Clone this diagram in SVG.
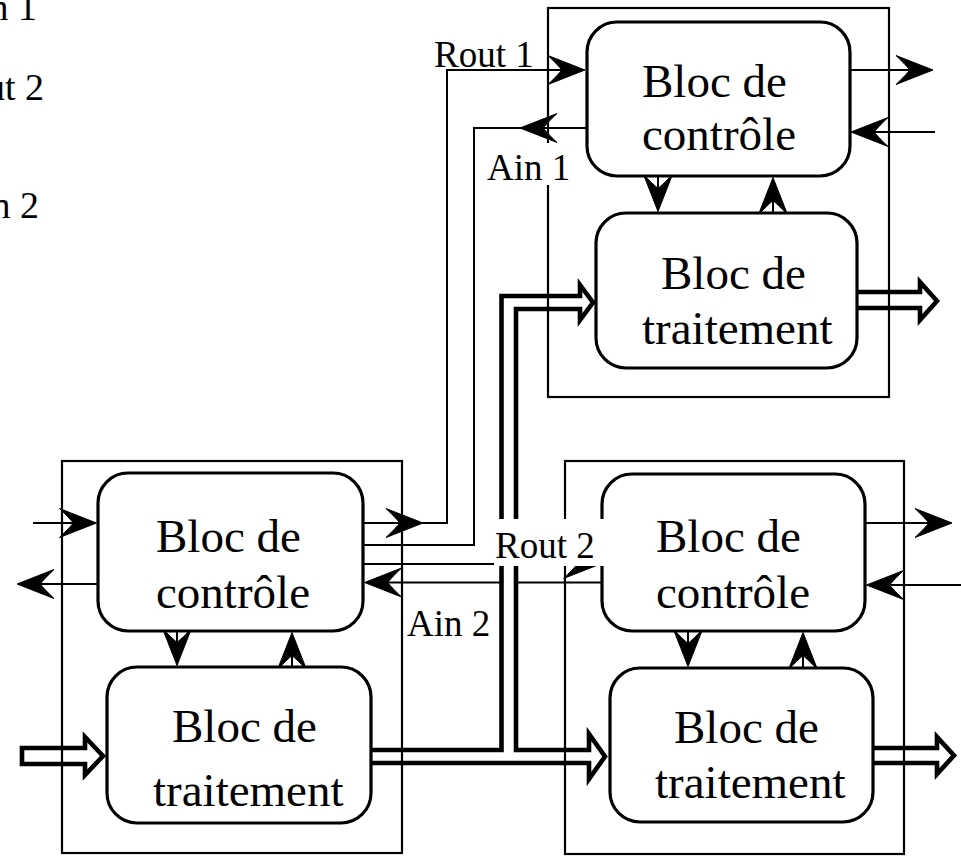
<svg xmlns="http://www.w3.org/2000/svg" xmlns:xlink="http://www.w3.org/1999/xlink" width="961" height="856" viewBox="0 0 961 856">
<style>
.box{fill:none;stroke:#000;stroke-width:2.2}
.blk{fill:#fff;stroke:#000;stroke-width:3.2}
.ln{fill:none;stroke:#000;stroke-width:2}
.ah{fill:#000;stroke:#000;stroke-width:1;stroke-linejoin:miter}
.bus{fill:#fff;stroke:#000;stroke-width:4.6;stroke-linejoin:miter;stroke-miterlimit:10}
.t{font-family:"Liberation Serif","Times New Roman",serif;font-size:47px;fill:#000}
.lbl{font-family:"Liberation Serif","Times New Roman",serif;font-size:37px;fill:#000}
.cut{font-family:"Liberation Serif","Times New Roman",serif;font-size:38px;fill:#000;text-anchor:end}
.bg{fill:#fff;stroke:none}
</style>
<defs>
<path id="ah" d="M0,0 L-37,-14.5 Q-28,-6 -23,0 Q-28,6 -37,14.5 Z"/>
</defs>

<g id="connectors">
  <line class="ln" x1="850" y1="70" x2="930" y2="70"/>
  <use href="#ah" class="ah" transform="translate(933,70)"/>
  <line class="ln" x1="935" y1="132" x2="855" y2="132"/>
  <use href="#ah" class="ah" transform="translate(851,132) rotate(180)"/>
  <line class="ln" x1="658" y1="176" x2="658" y2="208"/>
  <use href="#ah" class="ah" transform="translate(658,211.5) rotate(90)"/>
  <line class="ln" x1="773" y1="213" x2="773" y2="181"/>
  <use href="#ah" class="ah" transform="translate(773,177.5) rotate(-90)"/>

  <line class="ln" x1="33" y1="523" x2="93" y2="523"/>
  <use href="#ah" class="ah" transform="translate(96.5,523)"/>
  <line class="ln" x1="98" y1="584" x2="21" y2="584"/>
  <use href="#ah" class="ah" transform="translate(17,584) rotate(180)"/>
  <line class="ln" x1="177" y1="631" x2="177" y2="662"/>
  <use href="#ah" class="ah" transform="translate(177,665.5) rotate(90)"/>
  <line class="ln" x1="292" y1="667" x2="292" y2="636"/>
  <use href="#ah" class="ah" transform="translate(292,632.5) rotate(-90)"/>

  <line class="ln" x1="865" y1="523" x2="949" y2="523"/>
  <use href="#ah" class="ah" transform="translate(952,523)"/>
  <line class="ln" x1="961" y1="585" x2="870" y2="585"/>
  <use href="#ah" class="ah" transform="translate(866.5,585) rotate(180)"/>
  <line class="ln" x1="688" y1="631" x2="688" y2="663"/>
  <use href="#ah" class="ah" transform="translate(688,666.5) rotate(90)"/>
  <line class="ln" x1="803" y1="668" x2="803" y2="636"/>
  <use href="#ah" class="ah" transform="translate(803,632.5) rotate(-90)"/>

  <polyline class="ln" points="363,523 447,523 447,70 582,70"/>
  <use href="#ah" class="ah" transform="translate(423,523)"/>
  <use href="#ah" class="ah" transform="translate(585,70)"/>
  <polyline class="ln" points="587,128 474,128 474,545 363,545"/>
  <use href="#ah" class="ah" transform="translate(520,128) rotate(180)"/>
  <line class="ln" x1="363" y1="564" x2="598" y2="564"/>
  <use href="#ah" class="ah" transform="translate(600.5,564)"/>
  <line class="ln" x1="602" y1="582.5" x2="368" y2="582.5"/>
  <use href="#ah" class="ah" transform="translate(364.5,582.5) rotate(180)"/>
</g>

<g id="data-buses">
  <path class="bus" d="M372,750 L501.5,750 L501.5,296 L580,296 L580,285 L593,302.5 L580,320 L580,309 L516,309 L516,750 L589,750 L589,734 L605,756.5 L589,779 L589,763 L372,763"/>
  <path class="bus" d="M22,748 L85,748 L85,737 L103,756 L85,775 L85,764 L22,764 Z"/>
  <path class="bus" d="M873,748 L937,748 L937,737 L954,755.5 L937,774 L937,763 L873,763"/>
  <path class="bus" d="M857,292 L920,292 L920,282 L937,301 L920,320 L920,308 L857,308"/>
</g>

<g id="module-top-right">
  <rect class="box" x="548" y="8" width="341" height="389"/>
  <g id="tr-controle">
    <rect class="blk" x="587" y="22" width="263" height="154" rx="30" ry="30"/>
    <text class="t" x="642" y="97">Bloc de</text>
    <text class="t" x="642" y="150">contrôle</text>
  </g>
  <g id="tr-traitement">
    <rect class="blk" x="596" y="213" width="261" height="155" rx="30" ry="30"/>
    <text class="t" x="661" y="289">Bloc de</text>
    <text class="t" x="642" y="344">traitement</text>
  </g>
</g>

<g id="module-bottom-left">
  <rect class="box" x="62" y="461" width="340" height="392"/>
  <g id="bl-controle">
    <rect class="blk" x="98" y="473" width="265" height="158" rx="30" ry="30"/>
    <text class="t" x="156" y="552">Bloc de</text>
    <text class="t" x="156" y="608">contrôle</text>
  </g>
  <g id="bl-traitement">
    <rect class="blk" x="107" y="667" width="264" height="156" rx="30" ry="30"/>
    <text class="t" x="172" y="742">Bloc de</text>
    <text class="t" x="153" y="806">traitement</text>
  </g>
</g>

<g id="module-bottom-right">
  <rect class="box" x="565" y="461" width="339" height="393"/>
  <g id="br-controle">
    <rect class="blk" x="602" y="474" width="263" height="157" rx="30" ry="30"/>
    <text class="t" x="656" y="552">Bloc de</text>
    <text class="t" x="656" y="608">contrôle</text>
  </g>
  <g id="br-traitement">
    <rect class="blk" x="610" y="668" width="263" height="154" rx="30" ry="30"/>
    <text class="t" x="674" y="743">Bloc de</text>
    <text class="t" x="655" y="798">traitement</text>
  </g>
</g>

<g id="labels">
  <text class="lbl" x="434" y="67">Rout 1</text>
  <rect class="bg" x="484" y="143" width="86" height="42"/>
  <text class="lbl" x="487" y="180">Ain 1</text>
  <rect class="bg" x="494" y="519" width="112" height="47"/>
  <text class="lbl" x="495" y="558">Rout 2</text>
  <text class="lbl" x="407" y="636">Ain 2</text>
  <text class="cut" x="37" y="20">Ain 1</text>
  <text class="cut" x="44" y="100">Rout 2</text>
  <text class="cut" x="39" y="218">Ain 2</text>
</g>
</svg>
